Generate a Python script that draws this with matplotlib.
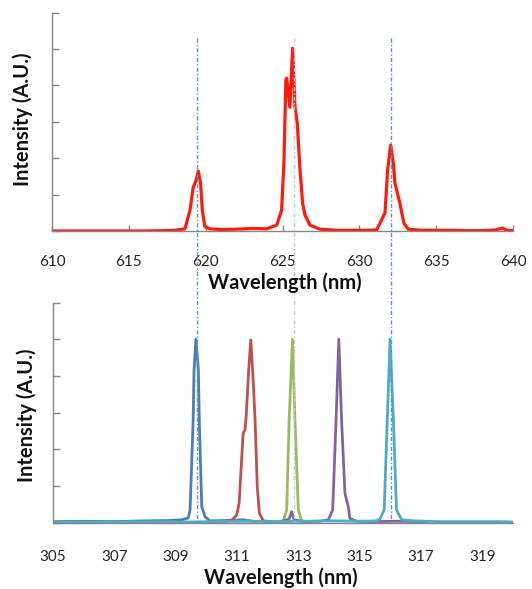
import matplotlib
matplotlib.use("Agg")
import matplotlib.pyplot as plt
from matplotlib.lines import Line2D
import matplotlib.transforms as mtransforms

plt.rcParams['font.family'] = ['Lato', 'DejaVu Sans']

# ---------------- data ----------------
# top panel: red emission spectrum (nm, A.U.)
red_wl = [610.0, 612.0, 614.0, 616.0, 617.3, 618.0, 618.65, 618.98, 619.19, 619.37, 619.52,
          619.67, 619.78, 619.95, 620.28, 621.0, 622.0, 623.0, 623.97, 624.62, 624.94,
          625.09, 625.22, 625.27, 625.48, 625.66, 625.81, 625.96, 626.14, 626.31, 626.46,
          626.79, 627.44, 628.5, 629.5, 630.5, 631.13, 631.67, 631.84, 632.04, 632.21,
          632.32, 632.64, 632.90, 633.18, 634.0, 635.0, 636.0, 637.0, 638.0, 638.9,
          639.3, 639.6, 640.0]
red_int = [0.0, 0.0, 0.0, 0.0, 0.01, 0.02, 0.06, 0.57, 1.20, 1.38, 1.65,
           1.31, 0.57, 0.12, 0.06, 0.04, 0.05, 0.07, 0.06, 0.16, 0.57,
           1.86, 4.15, 4.20, 3.40, 5.02, 3.42, 2.96, 1.68, 0.76, 0.44,
           0.16, 0.05, 0.02, 0.02, 0.02, 0.03, 0.50, 1.68, 2.36, 1.86,
           1.31, 0.76, 0.21, 0.05, 0.02, 0.02, 0.02, 0.01, 0.01, 0.03,
           0.08, 0.02, 0.01]

# bottom panel: five normalised spectra
blue_wl = [305.0, 306.0, 307.0, 308.0, 308.8, 309.2, 309.41, 309.47, 309.57, 309.60, 309.66,
           309.74, 309.77, 309.85, 309.96, 310.12, 310.6, 311.2, 311.6]
blue_int = [0.03, 0.04, 0.03, 0.05, 0.06, 0.08, 0.13, 0.35, 2.80, 4.16, 5.00,
            4.16, 2.80, 0.44, 0.16, 0.05, 0.06, 0.08, 0.03]

redb_wl = [310.5, 310.83, 310.99, 311.07, 311.15, 311.20, 311.26, 311.30, 311.38, 311.45,
           311.51, 311.59, 311.66, 311.73, 311.86, 312.2]
redb_int = [0.02, 0.07, 0.21, 0.54, 1.71, 2.44, 2.53, 2.90, 4.16, 4.98,
            4.16, 2.80, 0.98, 0.26, 0.05, 0.02]

green_wl = [312.2, 312.51, 312.62, 312.70, 312.81, 312.89, 313.00, 313.11, 313.4]
green_int = [0.02, 0.05, 0.35, 2.80, 5.00, 2.80, 0.35, 0.05, 0.02]

purple_wl = [312.4, 312.7, 312.78, 312.86, 313.2, 313.7, 313.98, 314.12, 314.23, 314.32,
             314.41, 314.52, 314.63, 314.68, 314.9, 315.5, 316.2, 316.8, 317.2]
purple_int = [0.02, 0.10, 0.30, 0.08, 0.03, 0.04, 0.08, 0.35, 2.80, 5.00,
              2.80, 0.80, 0.44, 0.12, 0.04, 0.03, 0.04, 0.03, 0.02]

cyan_wl = [305.0, 306.5, 308.0, 309.5, 311.0, 312.5, 314.0, 315.0, 315.55, 315.66,
           315.80, 315.90, 315.99, 316.10, 316.20, 316.37, 316.8, 317.5, 318.5, 319.5, 320.0]
cyan_int = [0.02, 0.02, 0.03, 0.02, 0.04, 0.03, 0.05, 0.04, 0.05, 0.10,
            0.35, 2.80, 5.00, 2.80, 0.35, 0.08, 0.05, 0.03, 0.03, 0.03, 0.02]

ref_lines = [619.45, 625.72, 632.05]

top_ticks = [610, 615, 620, 625, 630, 635, 640]
bot_ticks = [305, 307, 309, 311, 313, 315, 317, 319]

ylabel_text = 'Intensity (A.U.)'
xlabel_text = 'Wavelength (nm)'

# ---------------- figure ----------------
W, H = 532, 589
fig = plt.figure(figsize=(W / 100, H / 100), dpi=100)

def frac_axes(x0, y0, x1, y1):
    return fig.add_axes([x0 / W, 1 - y1 / H, (x1 - x0) / W, (y1 - y0) / H])

def fig_text(x, y, s, **kw):
    fig.text(x / W, 1 - y / H, s, ha='center', va='center', fontsize=14.5,
             fontweight='bold', color='#111111', **kw)

ax1 = frac_axes(52, 12.6, 513, 231)
ax2 = frac_axes(53, 302.5, 513, 522.7)

gray = '#868686'
for ax in (ax1, ax2):
    for s in ('top', 'right'):
        ax.spines[s].set_visible(False)
    for s in ('left', 'bottom'):
        ax.spines[s].set_color(gray)
        ax.spines[s].set_linewidth(1.0)
    ax.set_ylim(0, 6)
    ax.set_yticks(range(0, 7))
    ax.set_yticklabels([])
    ax.tick_params(axis='y', direction='in', length=5, color=gray, width=1)
    ax.tick_params(axis='x', direction='in', length=4, color=gray, width=1,
                   labelsize=11, pad=17, labelcolor='#222222')

ax1.plot(red_wl, red_int, color='#ff1a0a', lw=2.3, solid_joinstyle='round')
ax1.set_xlim(610, 640)
ax1.set_xticks(top_ticks)

ax2.plot(blue_wl, blue_int, color='#4a7ebb', lw=2.0)
ax2.plot(redb_wl, redb_int, color='#c0504d', lw=2.0)
ax2.plot(green_wl, green_int, color='#9bbb59', lw=2.0)
ax2.plot(purple_wl, purple_int, color='#8064a2', lw=2.0)
ax2.plot(cyan_wl, cyan_int, color='#4bacc6', lw=2.0)
ax2.set_xlim(305, 320)
ax2.set_xticks(bot_ticks)
ax2.tick_params(axis='x', length=0, pad=20)

fig_text(285, 283, xlabel_text)
fig_text(281, 578, xlabel_text)
fig_text(22.5, 119.5, ylabel_text, rotation=90)
fig_text(26.5, 415, ylabel_text, rotation=90)

# dotted reference lines spanning both panels
trans = mtransforms.blended_transform_factory(ax1.transData, fig.transFigure)
for i, x in enumerate(ref_lines):
    col = '#b7c9dd' if i == 1 else '#5b8fcf'
    fig.add_artist(Line2D([x, x], [1 - 37.7 / H, 1 - 522.7 / H], transform=trans,
                          color=col, lw=1.0, ls=(0, (3, 1.5, 1, 1.5)), zorder=0.5))

fig.savefig('out.png', dpi=100)
